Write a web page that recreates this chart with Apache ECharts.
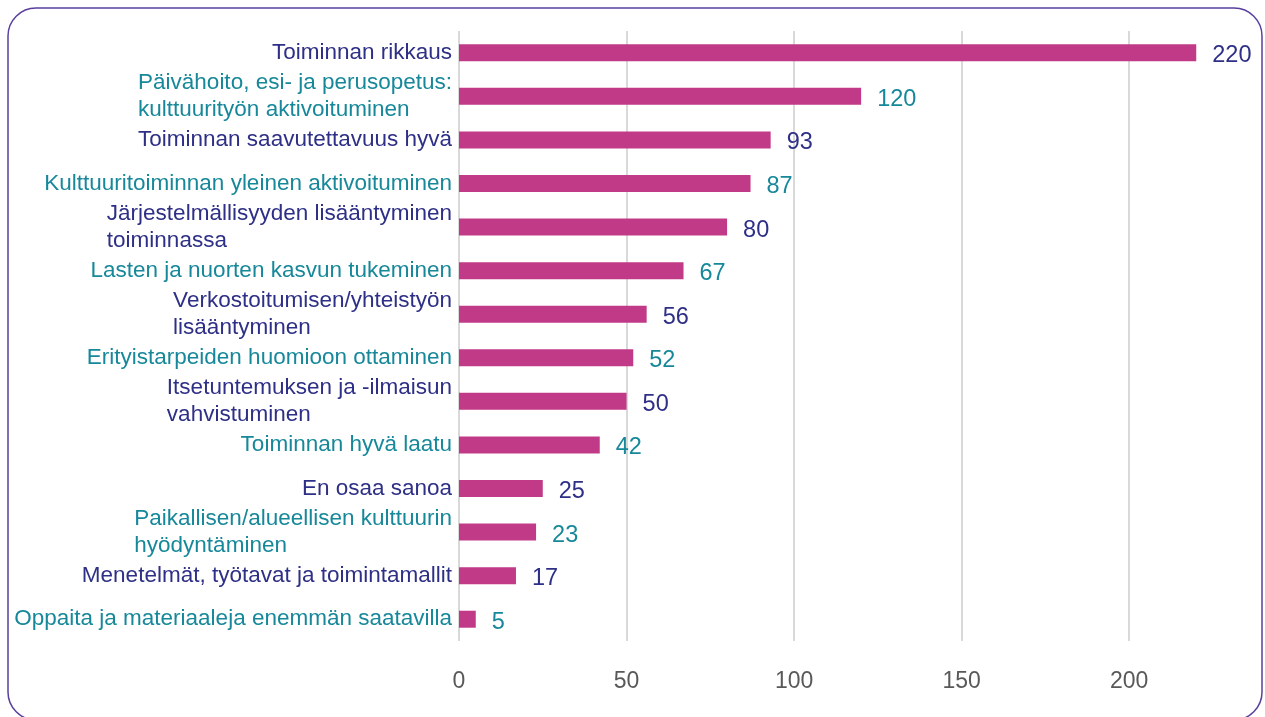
<!DOCTYPE html>
<html>
<head>
<meta charset="utf-8">
<script src="https://cdn.jsdelivr.net/npm/echarts@6/dist/echarts.min.js"></script>
<style>
html,body{margin:0;padding:0;background:#fff;}
#c{width:1265px;height:717px;}
</style>
</head>
<body>
<div id="c"></div>
<script>
const categories = [
  "Toiminnan rikkaus",
  "Päivähoito, esi- ja perusopetus:\nkulttuurityön aktivoituminen",
  "Toiminnan saavutettavuus hyvä",
  "Kulttuuritoiminnan yleinen aktivoituminen",
  "Järjestelmällisyyden lisääntyminen\ntoiminnassa",
  "Lasten ja nuorten kasvun tukeminen",
  "Verkostoitumisen/yhteistyön\nlisääntyminen",
  "Erityistarpeiden huomioon ottaminen",
  "Itsetuntemuksen ja -ilmaisun\nvahvistuminen",
  "Toiminnan hyvä laatu",
  "En osaa sanoa",
  "Paikallisen/alueellisen kulttuurin\nhyödyntäminen",
  "Menetelmät, työtavat ja toimintamallit",
  "Oppaita ja materiaaleja enemmän saatavilla"
];
const values = [220, 120, 93, 87, 80, 67, 56, 52, 50, 42, 25, 23, 17, 5];
const xTicks = [0, 50, 100, 150, 200];

const NAVY = '#2e2f86';
const TEAL = '#17889a';
const BAR = '#c13a88';
const FONT = 'Liberation Sans, Arial, sans-serif';

const labelColor = i => (i % 2 === 0 ? NAVY : TEAL);

const chart = echarts.init(document.getElementById('c'), null, {renderer: 'canvas'});
chart.setOption({
  animation: false,
  backgroundColor: '#fff',
  graphic: [{
    type: 'rect',
    shape: {x: 8, y: 8, width: 1254, height: 712, r: 28},
    style: {fill: 'none', stroke: '#5a3f9e', lineWidth: 1.5},
    z: -1
  }],
  grid: {left: 459, right: 52, top: 31, bottom: 76, containLabel: false},
  xAxis: {
    type: 'value',
    min: 0,
    max: 225,
    interval: 50,
    axisLine: {show: false},
    axisTick: {show: false},
    splitLine: {show: true, showMaxLine: false, lineStyle: {color: '#d9d9d9', width: 2}},
    axisLabel: {
      color: '#595959', fontFamily: FONT, fontSize: 23, margin: 29,
      showMaxLabel: false,
      formatter: v => (xTicks.indexOf(v) >= 0 ? String(v) : '')
    }
  },
  yAxis: {
    type: 'category',
    inverse: true,
    data: categories,
    axisLine: {show: false},
    axisTick: {show: false},
    splitLine: {show: false},
    axisLabel: {
      margin: 7,
      align: 'right',
      fontFamily: FONT,
      fontSize: 22.5,
      lineHeight: 27,
      formatter: (val, idx) => {
        const k = idx % 2 === 0 ? 'n' : 't';
        return val.split('\n').map(s => '{' + k + '|' + s + '}').join('\n');
      },
      rich: {
        n: {color: NAVY, align: 'left', fontFamily: FONT, fontSize: 22.5, lineHeight: 27},
        t: {color: TEAL, align: 'left', fontFamily: FONT, fontSize: 22.5, lineHeight: 27}
      }
    }
  },
  series: [{
    type: 'bar',
    data: values.map((v, i) => ({
      value: v,
      label: {color: labelColor(i)}
    })),
    barWidth: 17,
    itemStyle: {color: BAR},
    label: {
      show: true,
      position: 'right',
      distance: 16,
      offset: [0, 3],
      fontFamily: FONT,
      fontSize: 23.5
    }
  }]
});
</script>
</body>
</html>
